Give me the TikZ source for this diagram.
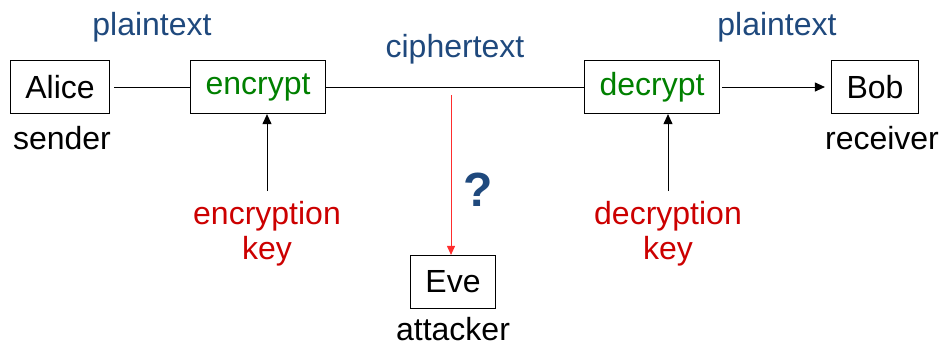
\documentclass[tikz,border=0pt]{standalone}
\usepackage{fontspec}
\setmainfont{Liberation Sans}
\usetikzlibrary{arrows.meta,positioning}
\definecolor{labelblue}{RGB}{31,73,125}
\definecolor{keyred}{RGB}{204,0,0}
\definecolor{opgreen}{RGB}{0,128,0}
\definecolor{tapred}{RGB}{255,45,45}

\begin{document}
\begin{tikzpicture}[x=0.5pt, y=-0.5pt,
    party/.style={draw, line width=0.6pt, minimum height=26.5pt,
                  inner xsep=7.5pt, font=\fontsize{16}{18}\selectfont},
    op/.style={party, text=opgreen},
    role/.style={inner sep=0pt, font=\fontsize{16}{18}\selectfont},
    msg/.style={role, text=labelblue},
    keylabel/.style={role, align=center, text=keyred,
                     font=\fontsize{16}{17.5}\selectfont},
    flow/.style={line width=0.5pt},
    feed/.style={flow, -{Triangle[length=5pt, width=4.5pt]}},
  ]
  \useasboundingbox (0,0) rectangle (944,350);

  % boxes
  \node[party] (alice) at (60,87) {Alice};
  \node[op] (enc) at (258,87) {encrypt};
  \node[op] (dec) at (652,87) {decrypt};
  \node[party] (bob) at (875,87) {Bob};
  \node[party] (eve) at (453,282) {Eve};

  % roles
  \node[role, below=6pt of alice, xshift=1pt] (senderlbl) {sender};
  \node[role, below=6pt of bob, xshift=3.5pt] (receiverlbl) {receiver};
  \node[role, below=4pt of eve] (attackerlbl) {attacker};

  % messages
  \node[msg] (plainin) at (152,27) {plaintext};
  \node[msg] (cipher) at (455,49) {ciphertext};
  \node[msg] (plainout) at (777,27) {plaintext};

  % keys
  \node[keylabel] (enckey) at (267,234) {encryption\\key};
  \node[keylabel] (deckey) at (668,234) {decryption\\key};

  \draw[flow, shorten <=2pt] (alice) -- (enc);
  \draw[flow] (enc) -- (dec);
  \draw[feed, shorten <=1pt, shorten >=3pt] (dec) -- (bob);
  \draw[feed] ([yshift=5pt]enckey.north) -- (enckey.north |- enc.south);
  \draw[feed] ([yshift=5pt]deckey.north) -- (deckey.north |- dec.south);

  % eavesdropper
  \coordinate (tap) at (451,95);
  \draw[flow, tapred, -{Triangle[length=4.5pt, width=4pt]}] (tap) -- (tap |- eve.north);
  \node[text=labelblue, font=\fontsize{24}{26}\selectfont\bfseries] (query) at (478,190) {?};
\end{tikzpicture}
\end{document}
